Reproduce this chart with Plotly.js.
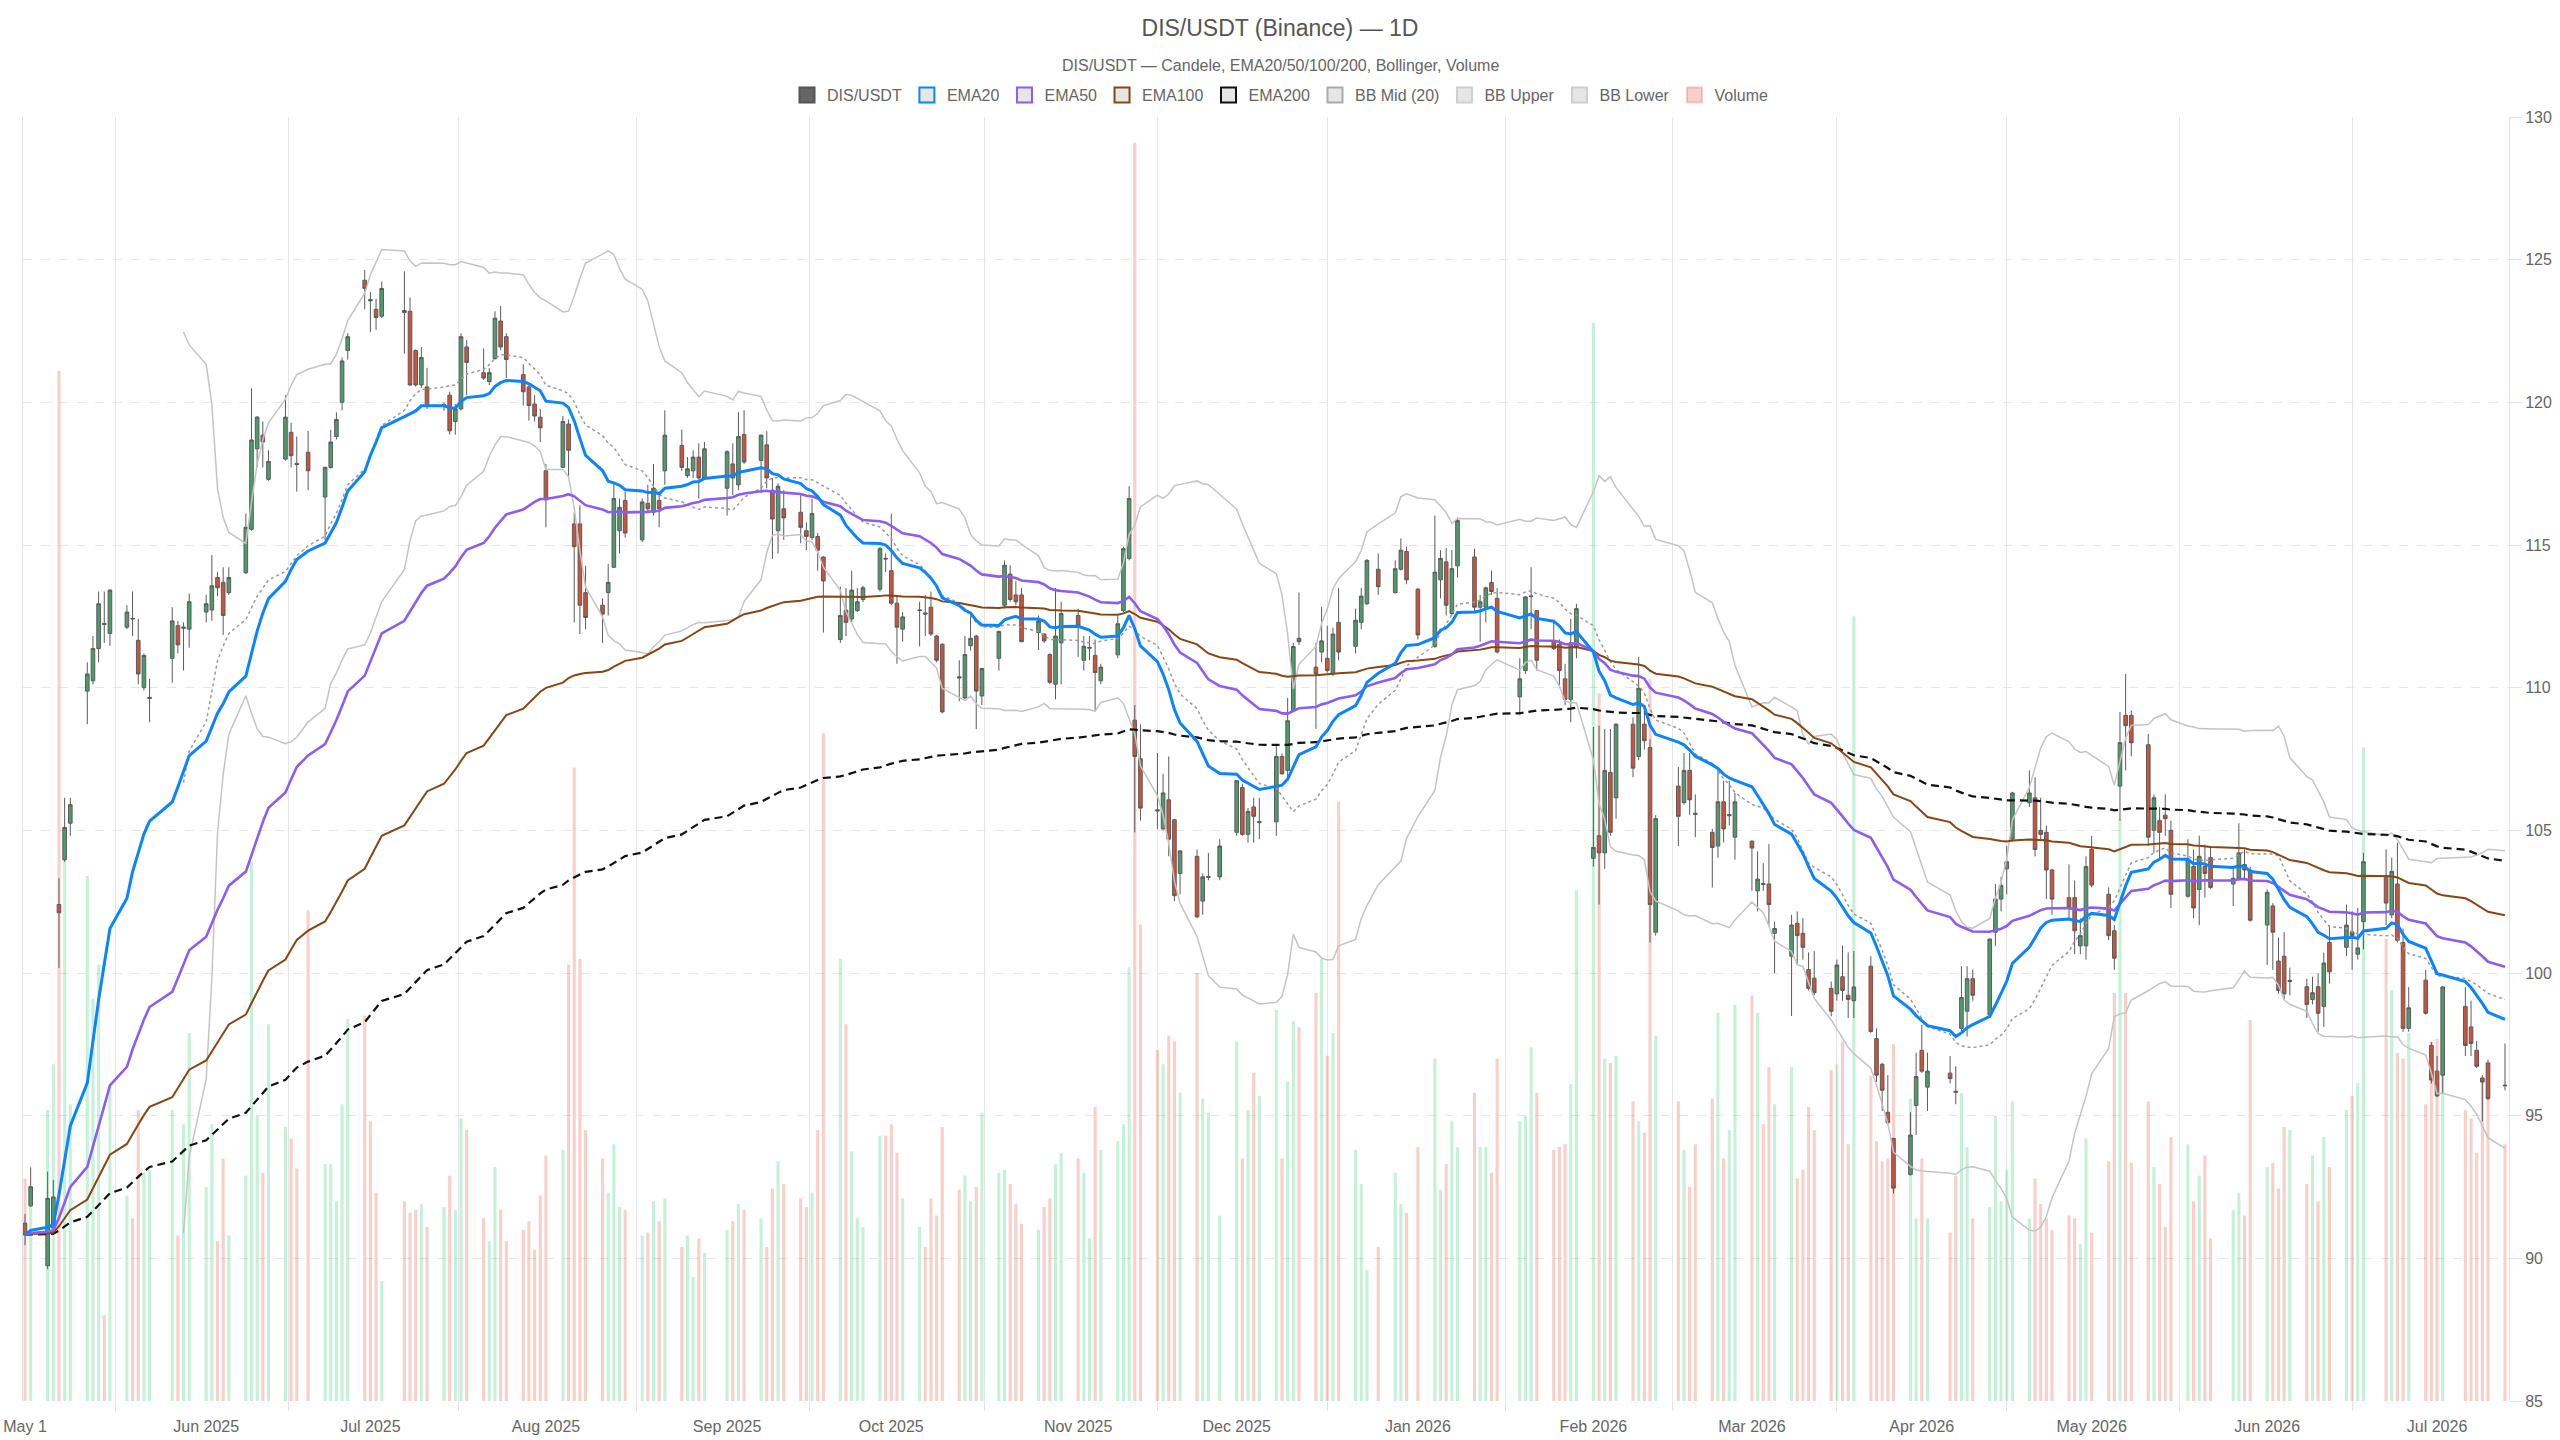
<!DOCTYPE html>
<html>
<head>
<meta charset="utf-8">
<script src="https://cdn.plot.ly/plotly-3.0.1.min.js"></script>
<style>html,body{margin:0;padding:0;background:#fff;}#chart{width:2560px;height:1440px;}</style>
</head>
<body>
<div id="chart"></div>
<script>
const dates = [
"2025-05-01","2025-05-02","2025-05-05","2025-05-06","2025-05-07","2025-05-08","2025-05-09","2025-05-12","2025-05-13","2025-05-14","2025-05-15","2025-05-16","2025-05-19","2025-05-20","2025-05-21","2025-05-22","2025-05-23","2025-05-27","2025-05-28","2025-05-29","2025-05-30",
"2025-06-02","2025-06-03","2025-06-04","2025-06-05","2025-06-06","2025-06-09","2025-06-10","2025-06-11","2025-06-12","2025-06-13","2025-06-16","2025-06-17","2025-06-18","2025-06-20","2025-06-23","2025-06-24","2025-06-25","2025-06-26","2025-06-27","2025-06-30",
"2025-07-01","2025-07-02","2025-07-03","2025-07-07","2025-07-08","2025-07-09","2025-07-10","2025-07-11","2025-07-14","2025-07-15","2025-07-16","2025-07-17","2025-07-18","2025-07-21","2025-07-22","2025-07-23","2025-07-24","2025-07-25","2025-07-28","2025-07-29","2025-07-30","2025-07-31",
"2025-08-01","2025-08-04","2025-08-05","2025-08-06","2025-08-07","2025-08-08","2025-08-11","2025-08-12","2025-08-13","2025-08-14","2025-08-15","2025-08-18","2025-08-19","2025-08-20","2025-08-21","2025-08-22","2025-08-25","2025-08-26","2025-08-27","2025-08-28","2025-08-29",
"2025-09-02","2025-09-03","2025-09-04","2025-09-05","2025-09-08","2025-09-09","2025-09-10","2025-09-11","2025-09-12","2025-09-15","2025-09-16","2025-09-17","2025-09-18","2025-09-19","2025-09-22","2025-09-23","2025-09-24","2025-09-25","2025-09-26","2025-09-29","2025-09-30",
"2025-10-01","2025-10-02","2025-10-03","2025-10-06","2025-10-07","2025-10-08","2025-10-09","2025-10-10","2025-10-13","2025-10-14","2025-10-15","2025-10-16","2025-10-17","2025-10-20","2025-10-21","2025-10-22","2025-10-23","2025-10-24","2025-10-27","2025-10-28","2025-10-29","2025-10-30","2025-10-31",
"2025-11-03","2025-11-04","2025-11-05","2025-11-06","2025-11-07","2025-11-10","2025-11-11","2025-11-12","2025-11-13","2025-11-14","2025-11-17","2025-11-18","2025-11-19","2025-11-20","2025-11-21","2025-11-24","2025-11-25","2025-11-26","2025-11-28",
"2025-12-01","2025-12-02","2025-12-03","2025-12-04","2025-12-05","2025-12-08","2025-12-09","2025-12-10","2025-12-11","2025-12-12","2025-12-15","2025-12-16","2025-12-17","2025-12-18","2025-12-19","2025-12-22","2025-12-23","2025-12-24","2025-12-26","2025-12-29","2025-12-30","2025-12-31",
"2026-01-02","2026-01-05","2026-01-06","2026-01-07","2026-01-08","2026-01-09","2026-01-12","2026-01-13","2026-01-14","2026-01-15","2026-01-16","2026-01-20","2026-01-21","2026-01-22","2026-01-23","2026-01-26","2026-01-27","2026-01-28","2026-01-29","2026-01-30",
"2026-02-02","2026-02-03","2026-02-04","2026-02-05","2026-02-06","2026-02-09","2026-02-10","2026-02-11","2026-02-12","2026-02-13","2026-02-17","2026-02-18","2026-02-19","2026-02-20","2026-02-23","2026-02-24","2026-02-25","2026-02-26","2026-02-27",
"2026-03-02","2026-03-03","2026-03-04","2026-03-05","2026-03-06","2026-03-09","2026-03-10","2026-03-11","2026-03-12","2026-03-13","2026-03-16","2026-03-17","2026-03-18","2026-03-19","2026-03-20","2026-03-23","2026-03-24","2026-03-25","2026-03-26","2026-03-27","2026-03-30","2026-03-31",
"2026-04-01","2026-04-02","2026-04-06","2026-04-07","2026-04-08","2026-04-09","2026-04-10","2026-04-13","2026-04-14","2026-04-15","2026-04-16","2026-04-17","2026-04-20","2026-04-21","2026-04-22","2026-04-23","2026-04-24","2026-04-27","2026-04-28","2026-04-29","2026-04-30",
"2026-05-01","2026-05-04","2026-05-05","2026-05-06","2026-05-07","2026-05-08","2026-05-11","2026-05-12","2026-05-13","2026-05-14","2026-05-15","2026-05-18","2026-05-19","2026-05-20","2026-05-21","2026-05-22","2026-05-26","2026-05-27","2026-05-28","2026-05-29",
"2026-06-01","2026-06-02","2026-06-03","2026-06-04","2026-06-05","2026-06-08","2026-06-09","2026-06-10","2026-06-11","2026-06-12","2026-06-15","2026-06-16","2026-06-17","2026-06-18","2026-06-22","2026-06-23","2026-06-24","2026-06-25","2026-06-26","2026-06-29","2026-06-30",
"2026-07-01","2026-07-02","2026-07-06","2026-07-07","2026-07-08","2026-07-09","2026-07-10","2026-07-13"
];

const openPx = [
91.23,91.84,89.74,91.06,102.40,103.97,105.25,109.88,110.24,111.37,
112.25,111.90,112.12,112.43,111.66,110.00,109.62,111.03,112.17,112.08,
112.05,112.65,112.72,113.86,113.69,113.33,114.03,115.55,118.37,118.85,
117.30,118.01,118.95,117.86,118.25,116.68,117.72,118.80,120.00,121.82,
124.28,123.60,123.26,123.02,123.22,123.19,121.82,120.61,120.54,119.87,
120.25,119.33,119.77,121.94,121.04,120.73,121.53,122.85,122.30,120.97,
120.54,119.94,119.48,117.60,117.72,119.24,115.74,115.74,113.33,112.89,
113.33,114.22,115.50,116.56,115.18,116.46,116.15,116.56,117.60,118.49,
117.43,117.60,118.08,117.35,116.99,117.84,117.11,118.87,117.96,118.51,
116.92,115.50,116.27,116.15,115.50,115.26,115.30,114.58,111.69,112.72,
112.41,112.70,113.09,113.45,114.53,114.10,112.96,112.05,112.70,112.62,
112.82,111.81,111.52,110.38,109.64,111.47,111.81,109.71,111.03,112.89,
113.98,113.25,113.25,111.93,111.88,111.16,110.12,111.57,112.53,110.96,
111.38,111.13,110.24,111.15,112.70,114.53,108.86,107.51,105.72,105.05,
106.07,105.37,103.49,104.09,102.52,103.35,103.37,104.93,106.50,104.86,
105.82,105.27,105.30,107.59,107.10,109.20,111.73,110.72,111.25,111.03,
110.48,112.29,111.45,112.29,112.94,114.15,113.33,114.15,114.77,113.45,
111.44,113.78,114.41,112.60,114.27,114.58,112.82,112.82,113.69,113.13,
109.68,110.60,113.19,112.70,111.64,111.52,110.31,109.59,111.40,104.02,
104.81,104.21,107.03,106.14,108.72,107.59,108.72,107.90,101.43,106.55,
105.97,107.10,105.60,104.93,104.45,106.00,105.51,104.76,104.62,102.88,
103.14,103.12,101.39,100.59,101.74,101.39,100.12,99.82,99.46,99.27,
99.87,99.22,99.03,100.24,97.70,96.80,95.12,94.20,92.94,95.36,
97.29,96.00,96.49,95.86,98.06,98.66,99.80,98.54,101.43,102.59,
103.65,104.69,105.97,106.14,105.00,104.93,103.61,102.64,102.64,100.95,
100.95,104.33,102.76,101.48,106.55,109.03,109.03,108.00,105.00,105.34,
105.53,105.00,102.69,103.73,102.93,103.73,104.04,103.12,103.32,103.80,
103.61,101.68,102.35,100.42,100.59,99.70,99.52,99.07,99.52,98.83,
101.07,100.90,101.44,100.66,101.80,103.41,102.04,103.12,101.07,98.06,
99.75,97.46,96.56,96.42,98.83,98.11,97.29,96.32,96.85,96.07
];

const highPx = [
91.55,93.19,93.04,92.75,103.32,106.14,106.14,110.89,111.81,113.37,
113.37,113.45,112.89,113.37,112.41,111.20,110.31,112.82,112.34,112.29,
113.30,113.25,114.65,114.05,114.22,114.22,116.10,120.49,119.52,119.33,
118.32,120.25,119.28,118.80,119.00,117.75,119.04,119.65,121.57,122.42,
124.64,123.87,123.63,124.23,124.59,123.67,121.85,121.94,121.21,120.00,
120.37,119.94,122.42,122.18,121.89,121.20,123.19,123.38,122.42,121.33,
120.68,120.25,119.77,117.84,119.52,119.40,116.15,116.39,114.27,113.13,
114.34,117.16,116.63,116.87,116.63,117.11,117.84,116.87,119.72,119.04,
118.08,118.32,118.56,118.61,118.32,118.56,119.65,119.72,118.87,118.99,
117.35,117.16,116.92,116.75,115.79,116.63,115.42,114.60,113.54,113.49,
114.10,113.49,113.57,114.94,114.70,116.10,113.25,112.65,113.01,113.25,
113.37,111.85,111.55,110.96,111.81,112.65,111.85,110.70,112.00,114.46,
114.29,113.74,113.49,112.53,111.90,111.20,113.49,113.01,112.77,111.81,
111.81,111.69,110.84,112.53,114.94,117.06,109.39,108.72,107.71,106.98,
107.59,105.40,104.30,104.33,103.49,104.21,104.69,106.76,106.62,105.78,
106.14,106.14,107.95,107.70,109.64,111.57,113.33,111.57,112.84,112.17,
112.10,113.49,112.77,113.49,114.51,114.70,114.46,115.23,114.94,113.50,
116.03,114.82,114.89,114.82,115.96,114.87,113.25,113.54,114.10,113.49,
111.03,113.20,114.22,112.72,112.34,111.69,110.84,112.41,112.94,108.62,
108.67,108.55,108.55,108.75,108.96,111.08,109.39,108.19,105.53,107.22,
107.71,107.71,106.26,105.05,107.10,106.74,106.74,106.31,104.65,104.26,
103.85,104.52,101.80,102.04,102.16,101.92,100.72,100.77,99.70,100.47,
100.95,100.72,100.77,100.59,98.06,96.85,96.42,94.22,95.12,97.21,
98.18,97.21,97.09,96.73,100.24,100.24,100.12,101.20,103.12,103.37,
104.45,106.35,107.10,106.86,106.14,105.17,103.65,103.80,103.24,101.92,
104.09,104.81,103.00,101.68,109.15,110.48,109.20,108.38,106.26,105.82,
106.26,105.34,104.69,104.33,104.81,104.50,104.45,103.73,105.25,104.33,
103.73,102.93,102.45,101.24,101.43,100.19,99.80,99.87,99.99,100.71,
101.68,102.40,102.16,102.28,104.21,104.33,104.04,104.57,101.56,99.51,
100.11,97.58,97.09,99.55,99.51,99.03,97.62,96.42,96.97,97.53
];

const lowPx = [
90.46,91.80,89.62,90.82,100.18,103.90,104.81,108.72,110.12,110.89,
111.57,111.47,112.05,111.81,110.12,109.90,108.79,110.17,111.20,110.60,
111.40,112.29,112.34,113.21,111.85,113.25,113.98,115.50,117.72,117.72,
117.25,117.95,117.72,116.87,116.92,115.18,117.68,118.70,119.72,121.50,
123.26,122.47,122.54,122.95,121.70,120.58,120.55,120.50,119.77,119.70,
118.87,118.87,119.72,120.25,120.78,120.60,121.50,121.82,120.85,119.89,
119.36,119.33,118.61,115.62,117.70,117.35,112.29,111.88,112.05,111.57,
112.53,114.20,114.70,115.26,115.10,116.15,116.03,115.62,117.11,117.60,
117.35,117.35,116.63,117.30,116.03,116.75,116.92,117.84,116.82,116.99,
114.51,114.70,115.18,115.06,114.82,115.18,114.10,111.93,111.57,111.81,
112.29,112.65,113.00,113.37,114.05,112.89,110.84,111.61,111.45,111.81,
111.81,110.89,109.10,109.52,109.60,111.30,108.55,109.39,110.60,112.77,
113.01,112.89,111.60,111.32,111.57,110.12,109.59,110.12,111.08,110.60,
110.96,109.20,110.12,111.03,112.65,114.46,104.93,105.34,105.05,105.00,
104.09,102.52,102.76,101.92,102.04,103.25,103.25,104.81,104.81,104.57,
104.57,104.69,104.81,106.95,106.74,109.15,111.50,108.55,110.89,110.53,
110.40,110.96,111.20,112.05,112.89,113.25,113.30,114.10,113.62,111.69,
111.40,113.13,112.53,112.53,113.86,112.60,111.61,112.29,113.25,111.20,
109.03,110.48,112.05,110.60,111.32,110.07,109.39,108.79,111.03,103.73,
102.40,103.65,104.81,105.41,106.86,107.46,107.83,101.07,101.31,104.45,
105.90,105.54,104.76,103.00,104.04,104.57,105.17,103.97,102.88,102.16,
102.88,101.63,100.00,98.49,100.28,100.47,99.39,99.22,98.49,99.03,
99.03,98.42,98.42,97.90,96.18,95.16,94.68,92.27,92.90,94.32,
96.50,95.16,96.13,95.40,97.94,97.77,99.03,98.50,100.95,102.16,
102.76,104.60,105.82,104.09,104.69,102.59,102.04,101.92,100.66,100.66,
100.47,103.00,101.15,100.11,105.34,107.10,107.59,104.45,104.21,103.97,
104.81,102.28,102.64,101.92,101.68,102.64,102.95,102.35,103.25,103.25,
101.80,100.28,100.11,99.27,99.07,99.22,98.42,98.90,97.94,98.11,
99.63,100.59,100.11,100.47,100.83,101.68,101.92,101.07,97.94,97.94,
98.54,96.13,95.65,95.77,97.09,97.09,96.66,94.80,95.55,95.89
];

const closePx = [
90.82,92.51,92.10,92.15,102.11,105.10,105.90,110.48,111.37,112.94,
112.22,113.42,112.65,112.41,110.48,111.13,109.66,112.34,111.50,112.12,
113.01,112.94,113.57,113.50,112.53,113.86,115.62,118.68,119.48,118.61,
117.93,119.48,118.13,117.82,117.60,117.72,118.61,119.40,121.45,122.30,
123.99,123.56,122.97,123.99,123.15,120.61,120.61,121.57,119.89,119.92,
119.00,119.77,122.30,121.40,120.85,121.04,122.95,121.94,121.50,120.37,
119.89,119.52,119.11,116.58,119.33,118.32,114.94,112.89,112.46,112.58,
113.69,116.63,116.32,115.42,116.51,116.27,116.99,116.27,118.85,117.72,
117.67,118.08,117.35,118.37,118.27,117.35,118.80,117.91,118.85,117.35,
115.91,117.06,115.95,115.62,115.30,116.10,114.82,113.74,112.53,112.29,
113.42,113.01,113.50,114.87,114.51,112.96,112.12,112.48,112.72,112.58,
111.88,110.96,109.15,110.34,111.16,111.73,109.88,110.67,111.97,114.29,
113.09,113.01,111.61,112.34,111.64,110.19,111.81,112.60,112.17,111.45,
111.41,110.53,110.72,112.24,114.87,116.63,107.59,105.78,105.68,106.31,
104.69,102.71,104.28,101.97,103.37,103.38,104.45,106.74,104.86,105.66,
105.49,105.30,107.59,106.98,108.84,111.44,111.61,110.48,111.64,110.60,
111.88,111.25,112.36,113.21,114.46,113.54,114.17,114.82,113.78,111.85,
114.05,114.53,112.89,114.17,115.86,112.82,113.01,113.50,113.37,111.25,
110.31,113.18,113.21,110.96,111.37,110.60,109.59,111.57,112.77,104.40,
104.21,107.10,104.93,108.72,107.18,109.98,108.14,102.40,105.41,105.49,
107.10,106.07,105.56,104.40,106.00,105.05,105.55,106.00,104.38,103.29,
103.10,102.40,101.56,101.68,101.31,100.90,99.46,99.31,98.66,100.28,
99.39,99.07,99.51,97.95,96.42,95.89,94.75,92.46,94.32,96.37,
96.56,96.56,96.30,95.82,99.14,99.80,99.22,101.19,102.59,103.07,
103.90,106.31,106.31,104.33,104.86,103.61,102.59,102.28,101.48,101.31,
103.73,103.08,101.31,100.52,108.07,108.67,108.07,104.76,106.14,104.93,
105.41,102.76,103.97,102.28,104.09,103.49,103.00,103.32,104.21,103.61,
101.85,102.83,101.43,99.39,99.27,99.74,98.90,99.31,98.59,100.35,
100.04,101.68,101.31,100.88,103.90,102.45,103.56,101.15,98.06,98.78,
98.59,96.25,95.69,99.51,97.46,97.53,96.73,96.18,95.60,96.05
];

const volume = [
780,700,1020,1180,3610,1900,1040,1840,1410,1530,
300,1100,720,640,1020,800,810,1020,580,970,
1290,750,970,560,850,580,790,1890,1000,800,
1320,960,920,815,1720,830,830,700,1040,1340,
1350,980,730,420,700,660,670,690,610,680,
790,670,990,950,640,560,820,670,560,600,
630,530,720,860,880,1530,2220,1550,950,850,
730,900,680,670,580,590,700,630,710,540,
580,435,570,520,600,630,690,670,640,540,
745,840,760,710,680,730,950,2340,1550,1320,
875,640,610,930,930,970,870,710,610,540,
710,650,960,740,790,700,750,1010,800,810,
760,690,620,600,680,710,830,870,850,800,
570,1030,880,910,970,1520,4410,1670,1230,1180,
1280,1260,1080,1500,1060,1010,650,1260,850,1020,
1150,1070,1370,850,1120,1330,1310,1430,1550,1210,
1290,2100,880,760,460,540,800,690,660,890,
1200,740,830,980,890,1080,890,890,800,1200,
980,1000,1240,1080,880,890,900,1110,1790,3780,
2480,1200,1185,1210,1050,980,940,2530,1280,1050,
880,750,900,1060,1360,850,950,1390,1420,1360,
970,1170,1040,1170,780,810,1030,950,1160,1180,
1260,900,2750,1140,910,840,850,1250,1060,640,
850,640,590,790,1080,890,640,680,1000,700,
810,1050,640,780,690,640,600,650,640,550,
920,590,840,1430,2040,1430,835,1050,820,760,
610,925,900,700,790,860,570,670,730,650,
1335,820,835,745,960,950,760,860,700,925,
820,1020,1070,1115,2290,1620,1440,1220,1200,1290,
1040,1260,1270,1300,1020,990,870,1120,1170,900
];

// month labels sit on the first trading day of each month; grid lines fall halfway between them
const monthTicks = ["2025-05-01","2025-06-02","2025-07-01","2025-08-01","2025-09-02","2025-10-01","2025-11-03","2025-12-01","2026-01-02","2026-02-02","2026-03-02","2026-04-01","2026-05-01","2026-06-01","2026-07-01"];
const monthLabels = ["May 1","Jun 2025","Jul 2025","Aug 2025","Sep 2025","Oct 2025","Nov 2025","Dec 2025","Jan 2026","Feb 2026","Mar 2026","Apr 2026","May 2026","Jun 2026","Jul 2026"];
const gridTicks = ["2025-05-17","2025-06-16 12:00","2025-07-16 12:00","2025-08-17","2025-09-16 12:00","2025-10-17 12:00","2025-11-17","2025-12-17","2026-01-17 12:00","2026-02-16","2026-03-17","2026-04-16","2026-05-16 12:00","2026-06-16"];
const priceTicks = [85,90,95,100,105,110,115,120,125,130];

// indicators derived from the close series (standard definitions)
function emaOf(src, n) {
  const k = 2 / (n + 1);
  const out = [];
  let prev = null;
  for (let i = 0; i < src.length; i++) {
    prev = (i === 0) ? src[i] : src[i] * k + prev * (1 - k);
    out.push(prev);
  }
  return out;
}
function bollingerOf(src, n, mult) {
  const mid = [], up = [], lo = [];
  for (let i = 0; i < src.length; i++) {
    if (i < n - 1) { mid.push(null); up.push(null); lo.push(null); continue; }
    const w = src.slice(i - n + 1, i + 1);
    const m = w.reduce((a, b) => a + b, 0) / n;
    const sd = Math.sqrt(w.reduce((a, b) => a + (b - m) * (b - m), 0) / n);
    mid.push(m); up.push(m + mult * sd); lo.push(m - mult * sd);
  }
  return {mid, up, lo};
}

const ema20 = emaOf(closePx, 20);
const ema50 = emaOf(closePx, 50);
const ema100 = emaOf(closePx, 100);
const ema200 = emaOf(closePx, 200);
const bb = bollingerOf(closePx, 20, 2);

const UP = '#4f9a6c', DOWN = '#cc533b';
const volColors = closePx.map((c, i) => c >= openPx[i] ? 'rgba(46,204,113,0.27)' : 'rgba(231,76,60,0.27)');

const line = (y, name, color, width, dash) => ({
  type: 'scatter', mode: 'lines', x: dates, y: y, name: name,
  line: {color: color, width: width, dash: dash || 'solid'},
  xaxis: 'x', yaxis: 'y2', showlegend: false, hoverinfo: 'skip', connectgaps: false
});

const traces = [
  {type: 'bar', x: dates, y: volume, name: 'Volume', marker: {color: volColors, line: {width: 0}},
   width: 0.55 * 86400000, xaxis: 'x', yaxis: 'y', showlegend: false, hoverinfo: 'skip'},
  line(bb.up, 'BB Upper', '#c4c4c4', 1.5),
  line(bb.lo, 'BB Lower', '#c4c4c4', 1.5),
  line(bb.mid, 'BB Mid (20)', '#9a9a9a', 1.5, '3px,3px'),
  line(ema200, 'EMA200', '#111111', 2.2, '8px,5px'),
  line(ema100, 'EMA100', '#8b4513', 2),
  line(ema50, 'EMA50', '#8b5cf6', 2.6),
  line(ema20, 'EMA20', '#0a84ff', 3),
  {type: 'candlestick', x: dates, open: openPx, high: highPx, low: lowPx, close: closePx, name: 'DIS/USDT',
   xaxis: 'x', yaxis: 'y2', showlegend: false, hoverinfo: 'skip', whiskerwidth: 0,
   increasing: {line: {color: '#5b5b5b', width: 1}, fillcolor: UP},
   decreasing: {line: {color: '#5b5b5b', width: 1}, fillcolor: DOWN}}
];

// legend entries (box swatches, as in the reference legend)
const legendItems = [
  ['DIS/USDT', '#666666', '#555555'],
  ['EMA20', '#e6e6e6', '#0a84ff'],
  ['EMA50', '#e6e6e6', '#8b5cf6'],
  ['EMA100', '#e6e6e6', '#8b4513'],
  ['EMA200', '#e6e6e6', '#111111'],
  ['BB Mid (20)', '#e6e6e6', '#aaaaaa'],
  ['BB Upper', '#e6e6e6', '#cfcfcf'],
  ['BB Lower', '#e6e6e6', '#cfcfcf'],
  ['Volume', 'rgba(231,76,60,0.27)', 'rgba(231,76,60,0.27)']
];
legendItems.forEach((it, i) => {
  traces.push({type: 'scatter', mode: 'markers', x: [null], y: [null], name: it[0], legendrank: i + 1,
    marker: {symbol: 'square', size: 15, color: it[1], line: {color: it[2], width: 2}}, xaxis: 'x', yaxis: 'y',
    showlegend: true, hoverinfo: 'skip'});
});

const FONT = 'Liberation Sans, Arial, Helvetica, sans-serif';
const layout = {
  width: 2560, height: 1440,
  margin: {l: 23, r: 51, t: 117, b: 39},
  paper_bgcolor: '#ffffff', plot_bgcolor: '#ffffff',
  font: {family: FONT, size: 16, color: '#666666'},
  title: {text: 'DIS/USDT (Binance) — 1D', x: 0.5, xref: 'container', xanchor: 'center',
          y: 1 - 28 / 1440, yref: 'container', yanchor: 'middle',
          font: {family: FONT, size: 23, color: '#555555'}},
  annotations: [{text: 'DIS/USDT — Candele, EMA20/50/100/200, Bollinger, Volume', xref: 'paper', yref: 'paper',
                 x: (1280 - 23) / 2486, y: 1 + (117 - 65) / 1284, xanchor: 'center', yanchor: 'middle',
                 showarrow: false, font: {family: FONT, size: 16, color: '#666666'}}],
  showlegend: true,
  legend: {orientation: 'h', x: 0.5, xref: 'container', xanchor: 'center', y: 1 - 95 / 1440, yref: 'container',
           yanchor: 'middle', font: {family: FONT, size: 16, color: '#666666'}, bgcolor: 'rgba(0,0,0,0)',
           itemwidth: 30},
  barmode: 'overlay',
  boxgap: 0.2, boxgroupgap: 0.2,
  xaxis: {type: 'date', range: ['2025-04-30 15:30', '2026-07-13 17:00'], tickmode: 'array',
          tickvals: monthTicks, ticktext: monthLabels, showgrid: false, ticks: '', zeroline: false, showline: false,
          ticklabelstandoff: 14,
          tickfont: {family: FONT, size: 16, color: '#666666'}, rangeslider: {visible: false}, fixedrange: true,
          minor: {tickmode: 'array', tickvals: gridTicks, ticks: 'outside', ticklen: 9, tickcolor: '#e3e3e3',
                  showgrid: true, gridcolor: '#e6e6e6', gridwidth: 1}},
  yaxis: {range: [0, 4500], showticklabels: false, showgrid: false, zeroline: false, ticks: '',
          showline: true, mirror: true, linecolor: '#e3e3e3', linewidth: 1, fixedrange: true},
  yaxis2: {overlaying: 'y', side: 'right', range: [85, 130], tickmode: 'array', tickvals: priceTicks,
           showgrid: true, gridcolor: '#e6e6e6', griddash: 'dash', gridwidth: 1, zeroline: false, showline: false,
           ticks: 'outside', ticklen: 12, tickcolor: '#e3e3e3', fixedrange: true,
           tickfont: {family: FONT, size: 16, color: '#666666'}}
};

Plotly.newPlot('chart', traces, layout, {displayModeBar: false, staticPlot: true});
</script>
</body>
</html>
